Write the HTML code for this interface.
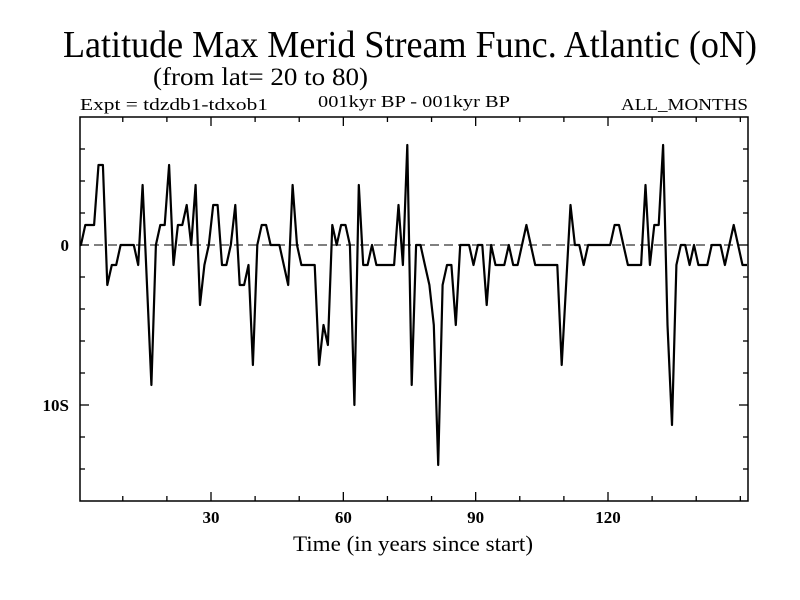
<!DOCTYPE html>
<html><head><meta charset="utf-8"><style>
html,body{margin:0;padding:0;background:#fff;}
svg{display:block;font-family:"Liberation Serif",serif;}
</style></head><body>
<svg id="chart" width="800" height="600" viewBox="0 0 800 600">
<rect x="0" y="0" width="800" height="600" fill="#fff"/>
<text x="63" y="57" font-size="38" textLength="694" lengthAdjust="spacingAndGlyphs">Latitude Max Merid Stream Func. Atlantic (oN)</text>
<text x="153" y="85" font-size="25" textLength="215" lengthAdjust="spacingAndGlyphs">(from lat= 20 to 80)</text>
<text x="80" y="110" font-size="17" textLength="188" lengthAdjust="spacingAndGlyphs">Expt = tdzdb1-tdxob1</text>
<text x="318" y="107" font-size="17" textLength="192" lengthAdjust="spacingAndGlyphs">001kyr BP - 001kyr BP</text>
<text x="621" y="110" font-size="17" textLength="127" lengthAdjust="spacingAndGlyphs">ALL_MONTHS</text>
<g id="axes"></g>
<line x1="80" y1="245" x2="748" y2="245" stroke="#000" stroke-width="1" stroke-dasharray="9,5" id="zero"/>
<path id="series" fill="none" stroke="#000" stroke-width="2.2" stroke-linejoin="round"/>
<rect x="80" y="117" width="668" height="384" fill="none" stroke="#000" stroke-width="1.5"/>
<text x="413" y="551" font-size="22" text-anchor="middle" textLength="240" lengthAdjust="spacingAndGlyphs">Time (in years since start)</text>
</svg>
<script>
const values = [0,1.25,1.25,1.25,5,5,-2.5,-1.25,-1.25,0,0,0,0,-1.25,3.75,-2.5,-8.75,0,1.25,1.25,
5,-1.25,1.25,1.25,2.5,0,3.75,-3.75,-1.25,0,2.5,2.5,-1.25,-1.25,0,2.5,-2.5,-2.5,-1.25,-7.5,
0,1.25,1.25,0,0,0,-1.25,-2.5,3.75,0,-1.25,-1.25,-1.25,-1.25,-7.5,-5,-6.25,1.25,0,1.25,
1.25,0,-10,3.75,-1.25,-1.25,0,-1.25,-1.25,-1.25,-1.25,-1.25,2.5,-1.25,6.25,-8.75,0,0,-1.25,-2.5,
-5,-13.75,-2.5,-1.25,-1.25,-5,0,0,0,-1.25,0,0,-3.75,0,-1.25,-1.25,-1.25,0,-1.25,-1.25,
0,1.25,0,-1.25,-1.25,-1.25,-1.25,-1.25,-1.25,-7.5,-2.5,2.5,0,0,-1.25,0,0,0,0,0,
0,1.25,1.25,0,-1.25,-1.25,-1.25,-1.25,3.75,-1.25,1.25,1.25,6.25,-5,-11.25,-1.25,0,0,-1.25,0,
-1.25,-1.25,-1.25,0,0,0,-1.25,0,1.25,0,-1.25,-1.25];
const xTickLabels = [30,60,90,120];
const yTickLabels = ["0","10S"];
const yTickValues = [0,-10];
const xMinorStep = 10;
const yMinorStep = 2;

const NS="http://www.w3.org/2000/svg";
const X0=80,X1=748,Y0=117,Y1=501;
function xs(t){return 211+(t-30)*(608-211)/90;}
function ys(v){return 245-v*16;}
const axes=document.getElementById('axes');
function ln(x1,y1,x2,y2,name){
  const l=document.createElementNS(NS,'line');
  l.setAttribute('x1',x1);l.setAttribute('y1',y1);l.setAttribute('x2',x2);l.setAttribute('y2',y2);
  l.setAttribute('stroke','#000');l.setAttribute('stroke-width','1.3');
  
  
  axes.appendChild(l);
}
function tx(x,y,s,anchor,size,name){
  const t=document.createElementNS(NS,'text');
  t.setAttribute('x',x);t.setAttribute('y',y);t.setAttribute('text-anchor',anchor);
  t.setAttribute('font-size',size);t.setAttribute('font-weight','bold');
  t.textContent=s;
  
  
  document.getElementById('chart').appendChild(t);
}
for(let yr=xMinorStep; yr<=150; yr+=xMinorStep){
  const x=xs(yr); const major=xTickLabels.includes(yr); const L=major?9:5;
  ln(x,Y1,x,Y1-L,'x-tick');
  ln(x,Y0,x,Y0+L,'x-tick-top');
}
for(let v=6; v>=-16; v-=yMinorStep){
  const y=ys(v); if(y<=Y0||y>=Y1) continue;
  const major=yTickValues.includes(v); const L=major?9:5;
  ln(X0,y,X0+L,y,'y-tick');
  ln(X1,y,X1-L,y,'y-tick-right');
}
xTickLabels.forEach(v=>tx(xs(v),523,String(v),'middle',17,'x-tick-label'));
yTickLabels.forEach((s,i)=>tx(69,ys(yTickValues[i])+6,s,'end',17,'y-tick-label'));
let d='M'+X0+','+ys(values[0]).toFixed(1);
values.forEach((v,i)=>{d+=' L'+xs(i+0.5).toFixed(1)+','+ys(v).toFixed(1);});
document.getElementById('series').setAttribute('d',d);
</script>
</body></html>
